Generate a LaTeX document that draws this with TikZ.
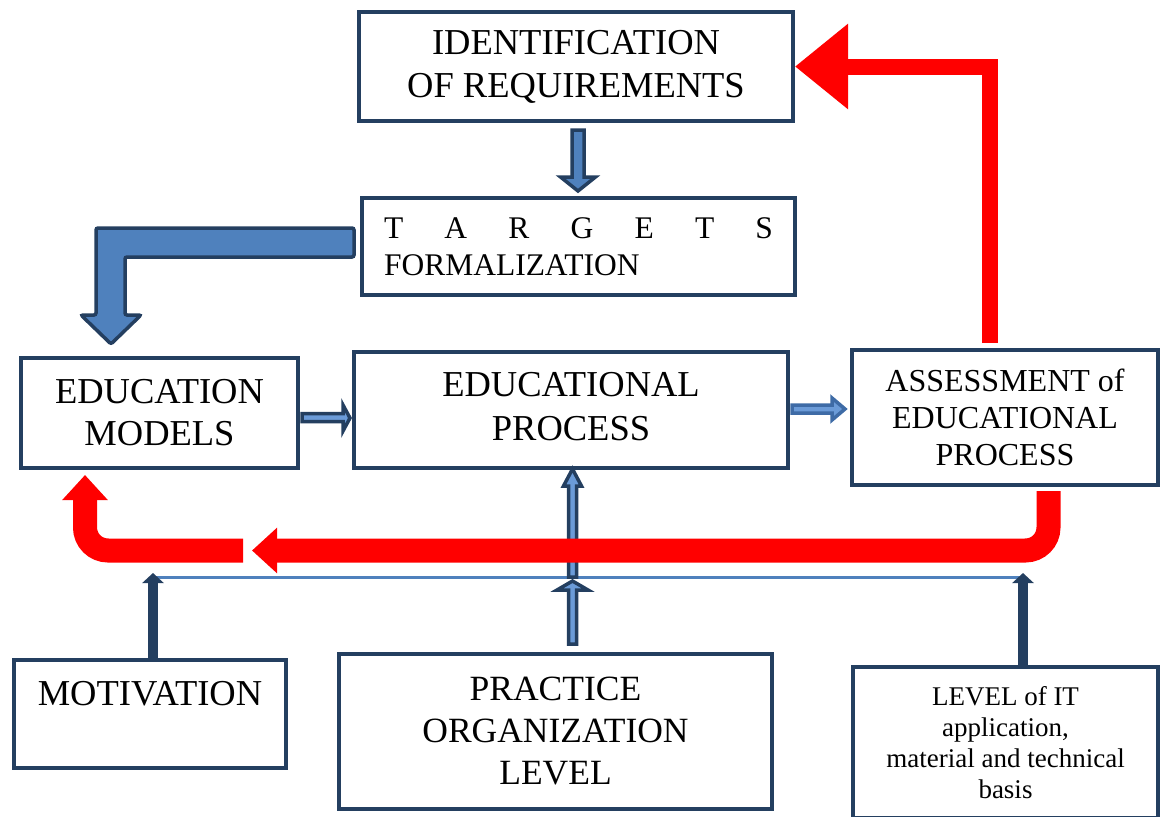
\documentclass[tikz,border=0pt]{standalone}
\usepackage{fontspec}
\setmainfont{Liberation Serif}
\usetikzlibrary{arrows.meta,calc}

\definecolor{navy}{HTML}{243F60}
\definecolor{bluefill}{HTML}{4F81BD}
\definecolor{midblue}{HTML}{3E6BA6}
\definecolor{lightblue}{HTML}{6B9BD8}
\definecolor{redarr}{HTML}{FF0000}

\tikzset{
  box/.style={draw=navy, line width=4pt, inner sep=0pt, align=center, fill=white},
  bigtxt/.style={font=\fontsize{36.5}{42}\selectfont},
  blockarrow/.style={fill=bluefill, draw=navy, line width=3.5pt, line join=miter},
  thinarrow/.style={fill=lightblue, draw=navy, line width=3.5pt, line join=miter},
  paletharrow/.style={fill=lightblue, draw=midblue, line width=3.5pt, line join=miter},
  uparrow/.style={draw=navy, line width=10pt, -{Triangle[length=10pt,width=21pt]}},
  bus/.style={draw=bluefill, line width=3pt},
  redfb/.style={draw=redarr, line width=24pt, rounded corners=23pt, -{Triangle[length=25pt,width=44pt]}},
  redtop/.style={draw=redarr, line width=16pt, line join=miter, -{Triangle[length=53pt,width=82pt]}}
}

\begin{document}
\begin{tikzpicture}[x=1pt,y=-1pt]
    \useasboundingbox (0,0) rectangle (1160,817);

    \node[box, font=\fontsize{36.5}{43}\selectfont, minimum width=434, minimum height=109] (ident) at (576,66.5) {IDENTIFICATION\\OF REQUIREMENTS};
    \node[box, font=\fontsize{31.5}{37}\selectfont, minimum width=433, minimum height=97, text width=389, align=left] (targets) at (578.5,246.5) {\makebox[389pt]{T\hfill A\hfill R\hfill G\hfill E\hfill T\hfill S}\\FORMALIZATION};
    \node[box, bigtxt, minimum width=277, minimum height=110] (models) at (159.5,413) {EDUCATION\\MODELS};
    \node[box, font=\fontsize{36.5}{44}\selectfont, minimum width=434, minimum height=116] (process) at (571,410) {EDUCATIONAL\\PROCESS\vphantom{p}};
    \node[box, font=\fontsize{32}{37}\selectfont, minimum width=306, minimum height=135] (assess) at (1005,417.5) {ASSESSMENT of\\EDUCATIONAL\\PROCESS};
    \node[box, bigtxt, minimum width=272, minimum height=108] (motiv) at (150,714) {MOTIVATION\\~};
    \node[box, font=\fontsize{35.5}{42}\selectfont, minimum width=433, minimum height=155] (practice) at (555.5,731.5) {PRACTICE\\ORGANIZATION\\LEVEL};
    \node[box, font=\fontsize{27}{31}\selectfont, minimum width=305, minimum height=151] (level) at (1005.5,742.5) {LEVEL of IT\\application,\\material and technical\\basis};

    \coordinate (busL) at (153,577);
    \coordinate (busR) at (1023,577);
    \draw[bus] (busL) -- (busR);
    \foreach \b/\n in {busL/motiv, busR/level}{%
        \draw[uparrow] (\b |- \n.north) -- ([yshift=4]\b);
    }

    % block arrows
    \draw[blockarrow, shift={(ident.south)}] (-4,7) -- (-4,54) -- (-15.5,54) -- (2,68) -- (19.5,54) -- (8,54) -- (8,7) -- cycle;
    \draw[blockarrow, rounded corners=2, shift={(targets.west)}] (-6,-18.5) -- (-264,-18.5) -- (-264,68.5) -- (-279,68.5) -- (-249,97.5) -- (-219,68.5) -- (-235,68.5) -- (-235,10.5) -- (-6,10.5) -- cycle;
    \draw[thinarrow, shift={(models.east)}] (2,0.5) -- (43,0.5) -- (43,-8) -- (50,5) -- (43,18) -- (43,8.5) -- (2,8.5) -- cycle;
    \draw[paletharrow, shift={(process.east)}] (2,-5) -- (42,-5) -- (42,-12) -- (55,-1) -- (42,10) -- (42,3) -- (2,3) -- cycle;
    \draw[thinarrow, shift={(process.south)}] (-2.5,107) -- (-2.5,16) -- (-7.5,16) -- (1.5,-1) -- (10.5,16) -- (5.5,16) -- (5.5,107) -- cycle;
    \draw[thinarrow, shift={(practice.north)}] (13,-8) -- (13,-62) -- (1.5,-62) -- (17,-71) -- (32.5,-62) -- (21,-62) -- (21,-8) -- cycle;

    % feedback
    \coordinate (fbtip) at (252,550.5);
    \coordinate (fbL) at (243,550.5);
    \draw[redfb] ([xshift=43.5,yshift=-4]assess.south) |- (fbtip);
    \draw[redfb] (fbL) -| ([xshift=-74.5,yshift=-5]models.south);
    \draw[redtop] ([xshift=-15,yshift=5]assess.north) |- (ident.east);
\end{tikzpicture}
\end{document}
